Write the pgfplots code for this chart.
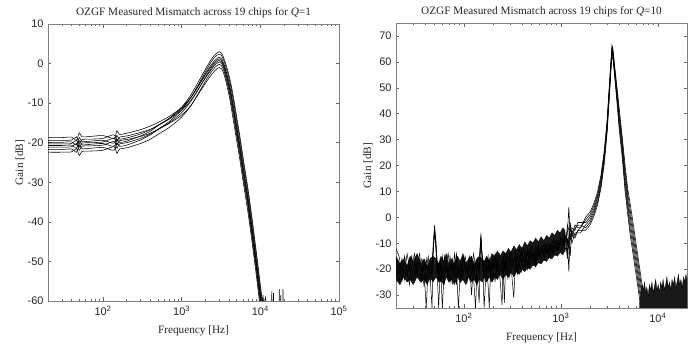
\documentclass[border=0pt]{standalone}
\usepackage{fontspec}
\setmainfont{Liberation Serif}
\setsansfont{Liberation Sans}
\usepackage{pgfplots}
\pgfplotsset{compat=1.18}
\usepackage{pgfplotstable}

\pgfplotstableread{
f c1 c2 c3 c4 c5 c6 c7 c8
20 -22.4 -21.7 -21.1 -20.7 -20.3 -19.9 -19.4 -18.7
30 -22.4 -21.7 -21.1 -20.7 -20.3 -19.9 -19.4 -18.7
40 -22.3 -21.6 -21.0 -20.6 -20.2 -19.8 -19.3 -18.6
46 -21.5 -22.4 -20.2 -21.4 -19.4 -20.6 -18.5 -19.4
50 -23.2 -20.5 -21.9 -19.5 -21.1 -18.7 -20.2 -17.5
54 -22.2 -21.5 -20.9 -20.5 -20.1 -19.7 -19.2 -18.5
70 -22.1 -21.4 -20.8 -20.4 -20.0 -19.6 -19.1 -18.4
100 -21.9 -21.2 -20.6 -20.2 -19.8 -19.4 -18.9 -18.2
138 -21.0 -21.9 -19.7 -20.9 -18.9 -20.1 -18.0 -18.9
150 -22.7 -20.0 -21.4 -19.0 -20.6 -18.2 -19.7 -17.0
162 -21.6 -20.9 -20.3 -19.9 -19.5 -19.1 -18.6 -17.9
200 -21.3 -20.6 -20.0 -19.6 -19.2 -18.8 -18.3 -17.6
300 -20.2 -19.3 -18.9 -18.3 -18.4 -17.8 -17.4 -16.7
400 -19.1 -18.0 -17.8 -17.1 -17.6 -16.7 -16.6 -15.8
500 -17.9 -16.6 -16.7 -15.7 -16.6 -15.6 -15.6 -14.9
700 -16.1 -14.6 -14.9 -13.8 -15.1 -13.8 -14.0 -13.3
1000 -13.5 -11.7 -12.4 -11.0 -13.0 -11.4 -11.8 -11.1
1300 -10.7 -8.7 -9.6 -8.0 -10.7 -8.7 -9.4 -8.6
1600 -7.8 -5.6 -6.8 -4.9 -8.0 -5.9 -6.7 -6.0
2000 -4.5 -2.1 -3.5 -1.5 -5.0 -2.6 -3.7 -2.9
2400 -2.0 0.6 -1.0 1.2 -2.8 -0.2 -1.4 -0.6
2700 -0.8 1.8 0.2 2.4 -1.6 1.0 -0.2 0.6
3000 -0.2 2.4 0.8 3.0 -1.0 1.6 0.4 1.2
3200 -0.5 2.1 0.5 2.7 -1.3 1.3 0.1 0.9
3500 -2.3 0.3 -1.3 0.9 -3.1 -0.5 -1.7 -0.9
4000 -7.0 -3.7 -5.7 -3.0 -8.0 -4.7 -6.3 -5.2
4500 -12.7 -8.8 -11.2 -7.9 -13.9 -10.0 -11.8 -10.6
5000 -18.2 -14.3 -16.7 -13.4 -19.4 -15.5 -17.3 -16.1
5500 -23.2 -19.3 -21.7 -18.4 -24.4 -20.5 -22.3 -21.1
6000 -28.2 -24.3 -26.7 -23.4 -29.4 -25.5 -27.3 -26.1
7000 -36.7 -32.8 -35.2 -31.9 -37.9 -34.0 -35.8 -34.6
8000 -45.2 -41.3 -43.7 -40.4 -46.4 -42.5 -44.3 -43.1
9000 -53.2 -49.3 -51.7 -48.4 -54.4 -50.5 -52.3 -51.1
10000 -60.7 -56.8 -59.2 -55.9 -61.9 -58.0 -59.8 -58.6
11000 -67.2 -63.3 -65.7 -62.4 -68.4 -64.5 -66.3 -65.1
}\leftdata

\pgfplotstableread{
f a b c d
20 -12 -19 -23 -16
21.5 -15 -22 -18 -25
23 -21 -16 -24 -19
24.5 -17 -24 -15 -22
26 -23 -18 -20 -14
27.5 -16 -21 -26 -19
29 -20 -15 -19 -24
31 -25 -22 -14 -18
33 -18 -17 -23 -21
35 -14 -24 -19 -16
37 -22 -19 -16 -25
39 -17 -27 -21 -18
41 -24 -16 -35 -20
43 -19 -21 -18 -15
45 -16 -25 -22 -23
47 -21 -20 -17 -35
48.5 -9 -11 -13 -12
50 -3 -5 -4 -6
51.5 -10 -8 -12 -11
53 -20 -17 -22 -16
55 -35 -22 -18 -24
57.5 -18 -16 -25 -20
60 -23 -35 -15 -19
63 -15 -20 -21 -26
66 -21 -18 -16 -17
69 -19 -24 -23 -14
72 -25 -15 -18 -20
76 -16 -21 -26 -18
80 -20 -17 -14 -23
84 -14 -26 -20 -16
88 -22 -19 -35 -21
93 -18 -23 -17 -25
98 -24 -16 -22 -15
103 -17 -20 -15 -19
108 -21 -25 -19 -22
114 -15 -18 -24 -17
120 -19 -22 -16 -30
126 -23 -14 -21 -18
132 -35 -19 -18 -24
138 -18 -24 -23 -16
144 -20 -17 -33 -21
148 -12 -10 -13 -11
150 -7 -8 -6 -9
152 -11 -13 -10 -12
156 -19 -16 -20 -15
162 -24 -35 -17 -22
170 -16 -20 -23 -18
178 -21 -15 -19 -26
183 -18 -22 -16 -35
190 -25 -18 -21 -17
200 -15 -24 -18 -20
210 -20 -16 -25 -14
220 -17 -21 -15 -23
232 -22 -14 -20 -18
248 -16 -19 -34 -21
255 -21 -23 -17 -15
262 -33 -17 -14 -20
272 -14 -21 -19 -16
285 -19 -15 -22 -24
298 -23 -18 -16 -14
312 -16 -22 -13 -19
327 -18 -31 -20 -17
342 -13 -17 -21 -15
358 -20 -14 -16 -22
375 -15 -19 -12 -18
393 -18 -13 -17 -21
412 -12 -20 -15 -16
433 -17 -15 -19 -13
455 -14 -18 -12 -20
478 -19 -12 -16 -15
502 -13 -17 -14 -11
527 -16 -14 -18 -13
553 -11 -19 -13 -17
581 -15 -12 -16 -10
610 -13 -16 -11 -15
640 -17 -11 -14 -12
672 -12 -15 -10 -16
705 -14 -10 -13 -11
740 -10 -14 -12 -15
777 -13 -11 -16 -10
816 -11 -13 -9 -14
857 -14 -9 -12 -11
900 -9 -12 -10 -13
945 -12 -10 -13 -8
990 -10 -13 -8 -11
1040 -8 -11 -10 -9
}\noisedata

\pgfplotstableread{
f p1 p2 p3 p4 p5 p6
1040 -12 -9 -7 -11 -8 -10
1090 -8 -11 -10 -7 -12 -9
1130 -10 -7 -13 -9 -6 -11
1170 -6 -14 -8 -3 -10 -16
1210 4 -9 -21 -5 -12 -7
1250 -9 -2 -6 -15 -4 -8
1300 -5 -8 -10 -4 -7 -6
1400 -7 -4 -6 -5 -3 -8
1500 -5 -3 -6 -2 -4 -5
1600 -5 -3 -6 -2 -4 -4
1800 -5 -4 -3 -2 -1 0
2000 -3 -2 -1 0 1 2
2200 0.5 1.5 2.5 3.5 4.5 5.5
2400 5 6 7 8 9 10
2600 11.5 12.5 13.5 14.5 15.5 16.5
2800 20.5 21.5 22.5 23.5 24.5 25.5
3000 32.5 33.5 34.5 35.5 36.5 37.5
3150 45 46 47 48 49 50
3280 56 57 58 58.5 59 60
3370 62.5 63.5 64.5 65 65.5 66.5
3450 61 62 62.5 63.5 64 65
3600 54 54.8 55.6 56.4 57.2 58
3800 44 45.2 46.4 47.6 48.8 50
4000 34 35.6 37.2 38.8 40.4 42
4300 23 24.6 26.2 27.8 29.4 31
4600 10 12 14 16 18 20
4900 1 3 5 7 9 11
5200 -7 -4.6 -2.2 0.2 2.6 5
5500 -13 -10.6 -8.2 -5.8 -3.4 -1
5800 -19 -16.6 -14.2 -11.8 -9.4 -7
6100 -24.5 -22.1 -19.7 -17.3 -14.9 -12.5
6400 -30 -27.6 -25.2 -22.8 -20.4 -18
6700 -35 -32.6 -30.2 -27.8 -25.4 -23
7000 -40 -37.6 -35.2 -32.8 -30.4 -28
7300 -45 -42.6 -40.2 -37.8 -35.4 -33
7600 -50 -47.6 -45.2 -42.8 -40.4 -38
}\maindata

\pgfplotsset{
  myaxis/.style={
    scale only axis, anchor=south west,
    axis line style={black!50, line width=0.6pt},
    every tick/.style={black!60, line width=0.5pt},
    major tick length=3.5bp, minor tick length=2bp,
    tick align=inside,
    ticklabel style={font=\fontsize{11}{12}\sffamily, text=black!85},
    label style={font=\fontsize{11.3}{13}\selectfont, text=black!85},
    title style={font=\fontsize{11.3}{13}\selectfont, text=black!85, at={(axis description cs:0.5,1)}, anchor=base, yshift=3bp},
    ylabel style={at={(axis description cs:-0.096,0.5)}, anchor=center},
    xticklabel style={yshift=-2bp},
    yticklabel style={xshift=-1bp},
  },
  crv/.style={black, line width=0.55pt},
  nz/.style={black, line width=0.5pt},
}

\begin{document}
\begin{tikzpicture}
\useasboundingbox (0,0) rectangle (692bp,344bp);
% ---------------- Left: Q=1 ----------------
\begin{semilogxaxis}[myaxis,
  at={(48bp,43bp)}, width=291bp, height=277bp,
  xmin=20, xmax=100000, ymin=-60, ymax=10,
  xtick={100,1000,10000,100000},
  xticklabels={10\textsuperscript{2},10\textsuperscript{3},10\textsuperscript{4},10\textsuperscript{5}},
  minor xtick={30,40,50,60,70,80,90,200,300,400,500,600,700,800,900,2000,3000,4000,5000,6000,7000,8000,9000,20000,30000,40000,50000,60000,70000,80000,90000},
  ytick={-60,-50,-40,-30,-20,-10,0,10},
  yticklabels={-60,-50,-40,-30,-20,-10,0,10},
  xlabel={Frequency [Hz]}, ylabel={Gain [dB]},
  xlabel style={at={(axis description cs:0.5,-0.108)}, anchor=center},
  title={OZGF Measured Mismatch across 19 chips for \textit{Q}=1},
]
\pgfplotsinvokeforeach{c1,c2,c3,c4,c5,c6,c7,c8}{
  \addplot[crv, smooth] table[x=f, y=#1] {\leftdata};
}
\addplot[crv] coordinates {(10500,-61) (10800,-58.5) (11100,-61) (11600,-59) (12000,-61)
  (13900,-61) (14000,-57.5) (14100,-61) (14600,-61) (14700,-58) (14800,-61)
  (17300,-61) (17400,-57) (17500,-61) (18100,-61) (18200,-58.5) (18300,-61)
  (19300,-61) (19400,-57) (19500,-61)};
\end{semilogxaxis}
% ---------------- Right: Q=10 ----------------
\begin{semilogxaxis}[myaxis,
  at={(396bp,36bp)}, width=291bp, height=285bp,
  xmin=20, xmax=20000, ymin=-35, ymax=75,
  xtick={100,1000,10000},
  xticklabels={10\textsuperscript{2},10\textsuperscript{3},10\textsuperscript{4}},
  minor xtick={30,40,50,60,70,80,90,200,300,400,500,600,700,800,900,2000,3000,4000,5000,6000,7000,8000,9000},
  ytick={-30,-20,-10,0,10,20,30,40,50,60,70},
  yticklabels={-30,-20,-10,0,10,20,30,40,50,60,70},
  xlabel={Frequency [Hz]}, ylabel={Gain [dB]},
  xlabel style={at={(axis description cs:0.5,-0.105)}, anchor=center},
  title={OZGF Measured Mismatch across 19 chips for \textit{Q}=10},
]
\addplot[fill=black!90, draw=black, line width=0.3pt] coordinates {
  (20,-15) (22,-18) (24,-16) (26,-19) (28,-15) (30,-17) (33,-14) (36,-18) (39,-16) (42,-19)
  (45,-16) (48,-15) (52,-16) (55,-18) (58,-15) (62,-17) (66,-14) (70,-18) (75,-16) (80,-19)
  (86,-15) (92,-17) (98,-14) (105,-18) (112,-16) (120,-15) (128,-18) (136,-16) (145,-15)
  (155,-16) (162,-17) (172,-15) (183,-17) (195,-14) (208,-15) (222,-13) (237,-15) (253,-13)
  (270,-14) (288,-12) (307,-13.5) (328,-11) (350,-12.5) (373,-10.5) (398,-12) (425,-9.5)
  (453,-11) (483,-9) (515,-10) (550,-8) (587,-9.5) (626,-7.5) (668,-9) (713,-7) (760,-8)
  (811,-6) (865,-7) (923,-5) (985,-6) (1050,-4) (1100,-5)
  (1100,-13) (1050,-14.5) (985,-13.5) (923,-15) (865,-14.5) (811,-16) (760,-15.5) (713,-17)
  (668,-16.5) (626,-18) (587,-17.5) (550,-19) (515,-18.5) (483,-20) (453,-19.5) (425,-21)
  (398,-20) (373,-22) (350,-21) (328,-23) (307,-21) (288,-23) (270,-22) (253,-24)
  (237,-22) (222,-24) (208,-23) (195,-25) (183,-23) (172,-25) (162,-23) (155,-25)
  (145,-24) (136,-26) (128,-24) (120,-25) (112,-23) (105,-26) (98,-24) (92,-25)
  (86,-23) (80,-26) (75,-24) (70,-25) (66,-23) (62,-26) (58,-24) (55,-25) (52,-23)
  (48,-25) (45,-23) (42,-26) (39,-24) (36,-25) (33,-23) (30,-26) (28,-24) (26,-25)
  (24,-23) (22,-26) (20,-24) (20,-15)};
\pgfplotsinvokeforeach{a,b,c,d}{
  \addplot[nz] table[x=f, y=#1] {\noisedata};
}
\pgfplotsinvokeforeach{p1,p2,p3,p4,p5,p6}{
  \addplot[crv] table[x=f, y=#1] {\maindata};
}
\addplot[fill=black!90, draw=black, line width=0.3pt] coordinates {
  (6500,-33) (6700,-29) (6900,-26) (7100,-28) (7300,-25) (7500,-29) (7700,-27)
  (7950,-30) (8200,-26) (8450,-28) (8700,-25) (8950,-29) (9200,-27) (9500,-24) (9800,-28)
  (10100,-26) (10400,-29) (10700,-25) (11000,-27) (11350,-24) (11700,-28) (12050,-26)
  (12400,-23) (12800,-27) (13200,-25) (13600,-28) (14000,-24) (14450,-26) (14900,-23)
  (15350,-27) (15800,-25) (16300,-22) (16800,-26) (17300,-24) (17850,-27) (18400,-23)
  (18950,-25) (19500,-22) (20000,-24) (20000,-40) (6400,-40) (6500,-33)};
\end{semilogxaxis}
\end{tikzpicture}
\end{document}
